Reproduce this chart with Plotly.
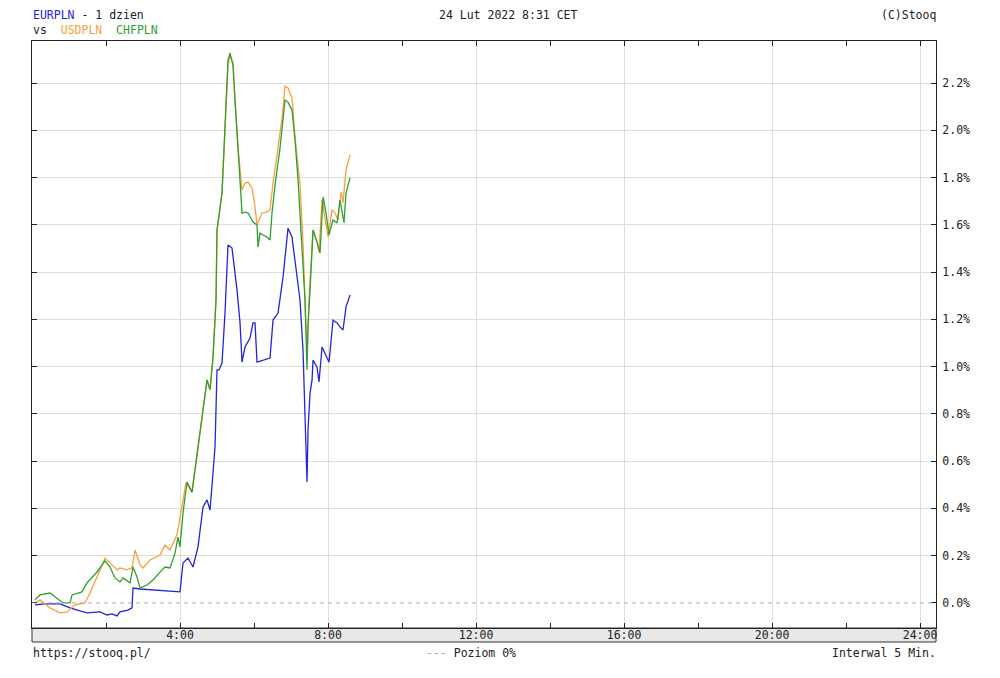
import plotly.graph_objects as go

# time in hours since midnight, values in %
eur_t = [0.081, 0.351, 0.757, 1.027, 1.297, 1.486, 1.838, 2.027, 2.162, 2.297, 2.378, 2.595, 2.703, 2.730,
         2.919, 3.270, 3.649, 4.000, 4.081, 4.216, 4.351, 4.486, 4.622, 4.730, 4.811, 4.946, 5.000, 5.054,
         5.135, 5.216, 5.297, 5.405, 5.486, 5.541, 5.622, 5.676, 5.757, 5.892, 5.973, 6.027, 6.081, 6.243,
         6.432, 6.514, 6.649, 6.784, 6.919, 7.027, 7.108, 7.243, 7.324, 7.378, 7.432, 7.459, 7.514, 7.568,
         7.595, 7.703, 7.757, 7.838, 7.973, 8.027, 8.135, 8.243, 8.324, 8.405, 8.486, 8.595]
eur_v = [-0.008, -0.004, -0.004, -0.021, -0.034, -0.042, -0.038, -0.051, -0.046, -0.055, -0.038, -0.030, -0.021, 0.063,
         0.059, 0.055, 0.051, 0.047, 0.169, 0.190, 0.152, 0.237, 0.406, 0.436, 0.393, 0.660, 0.986, 0.986,
         1.015, 1.227, 1.515, 1.502, 1.396, 1.324, 1.185, 1.019, 1.083, 1.121, 1.185, 1.185, 1.019, 1.028,
         1.036, 1.197, 1.227, 1.379, 1.586, 1.548, 1.438, 1.281, 1.070, 0.774, 0.512, 0.732, 0.888, 0.943,
         1.028, 0.998, 0.935, 1.083, 1.041, 1.019, 1.197, 1.185, 1.168, 1.155, 1.253, 1.303]

usd_t = [0.081, 0.216, 0.486, 0.757, 0.946, 1.162, 1.432, 1.568, 1.757, 1.973, 2.162, 2.297, 2.378, 2.568,
         2.703, 2.784, 2.919, 3.000, 3.189, 3.459, 3.595, 3.730, 3.919, 4.000, 4.081, 4.162, 4.324, 4.459,
         4.595, 4.730, 4.811, 4.892, 4.973, 5.000, 5.135, 5.216, 5.297, 5.351, 5.432, 5.486, 5.568, 5.676,
         5.757, 5.838, 5.946, 6.027, 6.081, 6.216, 6.351, 6.432, 6.514, 6.622, 6.757, 6.838, 6.919, 7.027,
         7.108, 7.243, 7.324, 7.378, 7.432, 7.486, 7.541, 7.595, 7.703, 7.757, 7.838, 7.919, 8.000, 8.108,
         8.189, 8.270, 8.351, 8.405, 8.486, 8.595]
usd_v = [0.000, 0.013, -0.021, -0.042, -0.038, -0.008, 0.000, 0.042, 0.110, 0.190, 0.161, 0.140, 0.148, 0.140,
         0.148, 0.224, 0.161, 0.148, 0.182, 0.203, 0.245, 0.224, 0.288, 0.359, 0.436, 0.508, 0.469, 0.635,
         0.796, 0.944, 0.902, 1.041, 1.282, 1.578, 1.735, 2.001, 2.276, 2.318, 2.284, 2.128, 1.929, 1.747,
         1.777, 1.781, 1.756, 1.676, 1.599, 1.650, 1.655, 1.663, 1.777, 1.896, 2.052, 2.187, 2.179, 2.136,
         1.972, 1.769, 1.523, 1.278, 1.058, 1.286, 1.451, 1.578, 1.527, 1.485, 1.705, 1.633, 1.549, 1.663,
         1.650, 1.621, 1.739, 1.693, 1.832, 1.896]

chf_t = [0.081, 0.216, 0.486, 0.676, 0.838, 1.027, 1.081, 1.351, 1.486, 1.757, 1.973, 2.108, 2.243, 2.378,
         2.459, 2.649, 2.730, 2.838, 2.919, 3.108, 3.270, 3.514, 3.595, 3.730, 3.865, 3.946, 4.000, 4.081,
         4.189, 4.324, 4.459, 4.595, 4.730, 4.811, 4.892, 4.973, 5.000, 5.135, 5.216, 5.297, 5.351, 5.432,
         5.486, 5.622, 5.676, 5.757, 5.838, 5.973, 6.081, 6.108, 6.162, 6.243, 6.351, 6.432, 6.486, 6.568,
         6.703, 6.838, 6.919, 7.027, 7.108, 7.189, 7.324, 7.378, 7.432, 7.459, 7.514, 7.568, 7.595, 7.703,
         7.784, 7.865, 7.946, 8.027, 8.135, 8.243, 8.324, 8.432, 8.486, 8.595]
chf_v = [0.013, 0.034, 0.042, 0.021, 0.000, 0.000, 0.034, 0.047, 0.085, 0.131, 0.178, 0.152, 0.106, 0.089,
         0.106, 0.085, 0.152, 0.110, 0.063, 0.076, 0.097, 0.140, 0.152, 0.148, 0.211, 0.279, 0.237, 0.381,
         0.512, 0.469, 0.635, 0.796, 0.944, 0.902, 1.041, 1.282, 1.578, 1.735, 2.001, 2.297, 2.327, 2.276,
         2.128, 1.747, 1.650, 1.654, 1.650, 1.612, 1.599, 1.506, 1.565, 1.557, 1.548, 1.536, 1.650, 1.769,
         1.926, 2.128, 2.119, 2.085, 1.959, 1.790, 1.451, 1.282, 0.987, 1.169, 1.325, 1.481, 1.578, 1.527,
         1.481, 1.718, 1.650, 1.557, 1.621, 1.608, 1.705, 1.608, 1.735, 1.799]

x_tickvals = [4, 8, 12, 16, 20, 24]
x_ticktext = ["4:00", "8:00", "12:00", "16:00", "20:00", "24:00"]
y_tickvals = [0.0, 0.2, 0.4, 0.6, 0.8, 1.0, 1.2, 1.4, 1.6, 1.8, 2.0, 2.2]
y_ticktext = ["0.0%", "0.2%", "0.4%", "0.6%", "0.8%", "1.0%", "1.2%", "1.4%", "1.6%", "1.8%", "2.0%", "2.2%"]

C_EUR = "#2424dc"
C_USD = "#f7a03c"
C_CHF = "#2f9f2f"
FONT = "DejaVu Sans Mono"
FS = 11.5

# page has an 8px body margin; work in page pixels and shift into figure coordinates
OFF = 8
W, H = 1000 - OFF, 678 - OFF
PL, PR, PT, PB = 32, 936, 41, 628  # plot area in page pixels
L, R, T, B = PL - OFF, W - (PR - OFF), PT - OFF, H - (PB - OFF)
plot_w, plot_h = PR - PL, PB - PT

fig = go.Figure()
fig.add_trace(go.Scatter(x=eur_t, y=eur_v, mode="lines", line=dict(color=C_EUR, width=1.3), name="EURPLN"))
fig.add_trace(go.Scatter(x=usd_t, y=usd_v, mode="lines", line=dict(color=C_USD, width=1.3), name="USDPLN"))
fig.add_trace(go.Scatter(x=chf_t, y=chf_v, mode="lines", line=dict(color=C_CHF, width=1.3), name="CHFPLN"))

fig.add_shape(type="rect", xref="paper", yref="paper", x0=0, x1=1, y0=-14 / plot_h, y1=0,
              fillcolor="#e8e8e8", line=dict(color="#333", width=1), layer="below")
fig.add_shape(type="line", xref="paper", yref="y", x0=0, x1=1, y0=0, y1=0,
              line=dict(color="#aaaaaa", width=1, dash="4px,4px"), layer="above")

fig.update_layout(
    width=W, height=H,
    margin=dict(l=L, r=R, t=T, b=B, autoexpand=False),
    paper_bgcolor="white", plot_bgcolor="white",
    showlegend=False,
    font=dict(family=FONT, size=FS, color="#222"),
    xaxis=dict(range=[0, 24.43], tickvals=x_tickvals, ticktext=x_ticktext,
               ticks="inside", ticklen=5, tickcolor="#222", showline=True, linecolor="#222", linewidth=1,
               mirror="ticks", showgrid=True, gridcolor="#dddddd", gridwidth=1, zeroline=False,
               minor=dict(dtick=2, tick0=0, ticks="inside", ticklen=5, tickcolor="#222", showgrid=False),
               ticklabelstandoff=-4, tickfont=dict(family=FONT, size=FS, color="#222")),
    yaxis=dict(range=[-0.106, 2.378], tickvals=y_tickvals, ticktext=y_ticktext,
               side="right", ticks="inside", ticklen=5, tickcolor="#222", showline=True, linecolor="#222",
               linewidth=1, mirror="ticks", showgrid=True, gridcolor="#dddddd", gridwidth=1,
               zeroline=True, zerolinecolor="white", zerolinewidth=1, ticklabelstandoff=3,
               tickfont=dict(family=FONT, size=FS, color="#222")),
)

# annotations placed by page pixel (x, y), converted to paper coordinates of the plot area
anns = [
    (32, 15, f"<span style='color:{C_EUR}'>EURPLN</span> - 1 dzien", "left"),
    (32, 30, f"vs&nbsp;&nbsp;<span style='color:{C_USD}'>USDPLN</span>&nbsp;&nbsp;<span style='color:{C_CHF}'>CHFPLN</span>", "left"),
    (508, 15, "24 Lut 2022 8:31 CET", "center"),
    (937, 15, "(C)Stooq", "right"),
    (32, 653, "https://stooq.pl/", "left"),
    (425, 653, "<span style='color:#aaaaaa'>---</span> Poziom 0%", "left"),
    (937, 653, "Interwal 5 Min.", "right"),
]
for px, py, text, anchor in anns:
    fig.add_annotation(x=(px - PL) / plot_w, y=(PB - py) / plot_h, xref="paper", yref="paper",
                       text=text, xanchor=anchor, yanchor="middle", showarrow=False,
                       font=dict(family=FONT, size=FS, color="#222"), borderpad=0)

fig.write_html("out.html")
